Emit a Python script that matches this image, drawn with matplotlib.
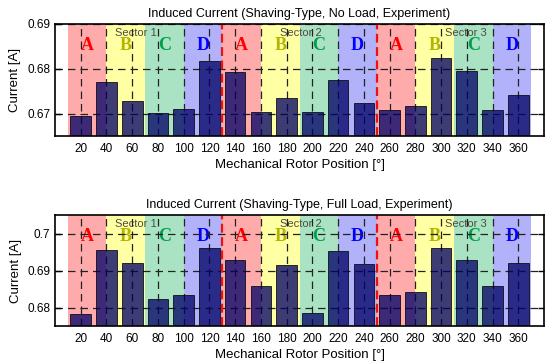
import numpy as np
import matplotlib.pyplot as plt

# rotor position and measured currents
pos = [20, 40, 60, 80, 100, 120, 140, 160, 180, 200, 220, 240, 260, 280, 300, 320, 340, 360]
i_noload = [0.6695, 0.6770, 0.6728, 0.6701, 0.6711, 0.6818, 0.6793, 0.6703, 0.6734,
            0.6703, 0.6775, 0.6724, 0.6707, 0.6717, 0.6823, 0.6796, 0.6707, 0.6741]
i_fullload = [0.6782, 0.6955, 0.6920, 0.6824, 0.6833, 0.6961, 0.6929, 0.6858, 0.6915,
              0.6786, 0.6952, 0.6917, 0.6833, 0.6843, 0.6961, 0.6928, 0.6858, 0.6921]

# phase bands (30 deg each) and sector borders
band_start = [10, 40, 70, 100, 130, 160, 190, 220, 250, 280, 310, 340]
band_name = ['A', 'B', 'C', 'D'] * 3
sector_x = [63, 191, 319]
sector_name = ['Sector 1', 'Sector 2', 'Sector 3']
sector_border = [130, 250]

bg_col = {'A': '#ffabab', 'B': '#ffffa3', 'C': '#aae3c4', 'D': '#b2b2fa'}
txt_col = {'A': '#ff0000', 'B': '#b3b300', 'C': '#00a04a', 'D': '#0000ff'}

plt.rcParams['font.family'] = ['Liberation Sans', 'DejaVu Sans']
plt.rcParams['font.size'] = 8.5

fig = plt.figure(figsize=(5.49, 3.63), dpi=100)
ax1 = fig.add_axes([0.1002, 0.6253, 0.8907, 0.3086])
ax2 = fig.add_axes([0.1002, 0.1019, 0.8907, 0.3058])

panels = [
    (ax1, i_noload, 'Induced Current (Shaving-Type, No Load, Experiment)',
     (0.665, 0.69), [0.67, 0.68, 0.69], ['0.67', '0.68', '0.69']),
    (ax2, i_fullload, 'Induced Current (Shaving-Type, Full Load, Experiment)',
     (0.675, 0.705), [0.68, 0.69, 0.70], ['0.68', '0.69', '0.7']),
]

for ax, vals, title, ylim, yt, ytl in panels:
    for x0, nm in zip(band_start, band_name):
        ax.axvspan(x0, x0 + 30, color=bg_col[nm], lw=0, zorder=0)
        ax.text(x0 + 15, 0.81, nm, transform=ax.get_xaxis_transform(),
                ha='center', va='center', fontsize=13, fontweight='bold',
                family='Liberation Serif', color=txt_col[nm], zorder=2.5)
    for sx, sn in zip(sector_x, sector_name):
        ax.text(sx, 0.92, sn, transform=ax.get_xaxis_transform(),
                ha='center', va='center', fontsize=8, color='#4d4d40', zorder=2.5)

    ax.bar(pos, vals, width=16, color='#000064', alpha=0.76,
           edgecolor='black', linewidth=0.7, zorder=3)

    for b in sector_border:
        ax.axvline(b, color='#ee1111', ls=(0, (4, 2)), lw=1.6, zorder=4)

    ax.set_xlim(0, 380)
    ax.set_ylim(*ylim)
    ax.set_xticks(pos)
    ax.set_yticks(yt)
    ax.set_yticklabels(ytl)
    ax.grid(True, color='#222222', ls=(0, (6, 4)), lw=0.9)
    ax.set_axisbelow(False)
    for gl in ax.get_xgridlines() + ax.get_ygridlines():
        gl.set_zorder(2)
    ax.tick_params(axis='y', direction='in', right=True, length=4, width=1)
    ax.tick_params(axis='x', length=0, pad=5)
    for sp in ax.spines.values():
        sp.set_linewidth(1.2)
        sp.set_zorder(5)
    ax.set_title(title, fontsize=9, pad=5)
    ax.set_xlabel('Mechanical Rotor Position [°]', fontsize=9.5, labelpad=3)
    ax.set_ylabel('Current [A]', fontsize=9.5)

fig.savefig('out.png', dpi=100)
